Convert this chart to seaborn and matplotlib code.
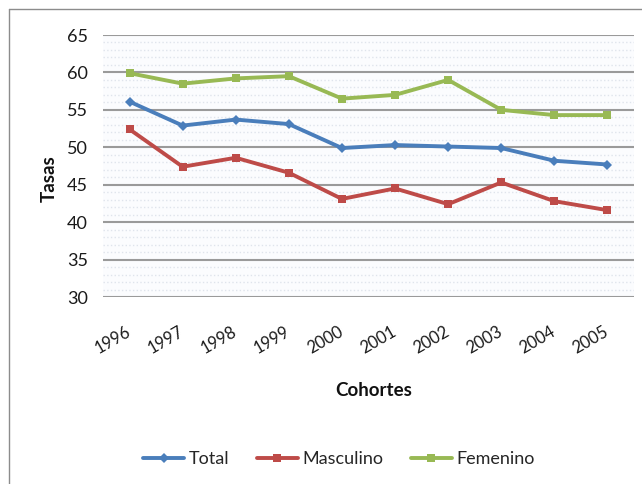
import pandas as pd
import seaborn as sns
import matplotlib.pyplot as plt
from matplotlib.ticker import MultipleLocator
from matplotlib.lines import Line2D

# Data
cohortes = ['1996', '1997', '1998', '1999', '2000', '2001', '2002', '2003', '2004', '2005']
total = [56.1, 52.9, 53.7, 53.1, 49.9, 50.3, 50.1, 49.9, 48.2, 47.7]
masculino = [52.4, 47.4, 48.6, 46.6, 43.1, 44.5, 42.4, 45.3, 42.8, 41.6]
femenino = [59.9, 58.5, 59.2, 59.5, 56.5, 57.0, 59.0, 55.0, 54.3, 54.3]
series = ['Total', 'Masculino', 'Femenino']
colores = ['#4a7ebb', '#be4b48', '#98b954']

# Long form table for seaborn
df = pd.DataFrame({'pos': range(len(cohortes)), 'Total': total,
                   'Masculino': masculino, 'Femenino': femenino})
df = df.melt(id_vars='pos', value_vars=series, var_name='serie', value_name='tasa')

sns.set_theme(style='white')
plt.rcParams['font.family'] = ['Lato', 'DejaVu Sans']

fig = plt.figure(figsize=(6.42, 4.84), dpi=100)
ax = fig.add_axes([103 / 642, 1 - 297 / 484, 531 / 642, 262 / 484])
ax.set_facecolor('#fbfcfe')

sns.lineplot(data=df, x='pos', y='tasa', hue='serie', style='serie',
             hue_order=series, style_order=series,
             palette=dict(zip(series, colores)),
             markers={'Total': 'D', 'Masculino': 's', 'Femenino': 's'},
             dashes=False, linewidth=2.8, markersize=5.5, markeredgewidth=0,
             ax=ax, zorder=3)

ax.set_xlim(-0.5, len(cohortes) - 0.5)
ax.set_ylim(30, 65)
ax.yaxis.set_major_locator(MultipleLocator(5))
ax.yaxis.set_minor_locator(MultipleLocator(1))
ax.grid(axis='y', which='major', color='#9a9a9a', linewidth=1.5)
ax.grid(axis='y', which='minor', color='#dfe4ec', linewidth=1, linestyle=':')
ax.set_axisbelow(True)
for s in ax.spines.values():
    s.set_visible(False)

ax.set_xticks(range(len(cohortes)))
ax.set_xticklabels(cohortes, rotation=30, ha='right', va='center',
                   rotation_mode='anchor', fontsize=12, color='#1a1a1a')
ax.tick_params(axis='x', length=0, pad=24)
ax.tick_params(axis='y', length=0, pad=11, labelsize=13, labelcolor='#1a1a1a')

ax.set_xlabel('Cohortes', fontsize=13.5, fontweight='bold', color='#111111')
ax.xaxis.set_label_coords(0.51, -0.325)
ax.set_ylabel('Tasas', fontsize=13.5, fontweight='bold', color='#111111')
ax.yaxis.set_label_coords(-0.086, 0.45)

# legend below the axes
handles, labels = ax.get_legend_handles_labels()
ax.get_legend().remove()
fig.legend(handles, labels, loc='center', bbox_to_anchor=(0.528, 0.052),
           ncol=3, frameon=False, fontsize=13, handlelength=2.3,
           handletextpad=0.25, columnspacing=1.5)

# chart frame (top and left edges visible)
fig.add_artist(Line2D([9 / 642, 9 / 642], [0, 1 - 9 / 484], color='#8c8c8c',
                      linewidth=1, transform=fig.transFigure))
fig.add_artist(Line2D([9 / 642, 1], [1 - 9 / 484, 1 - 9 / 484], color='#8c8c8c',
                      linewidth=1, transform=fig.transFigure))

fig.savefig('out.png', dpi=100)
